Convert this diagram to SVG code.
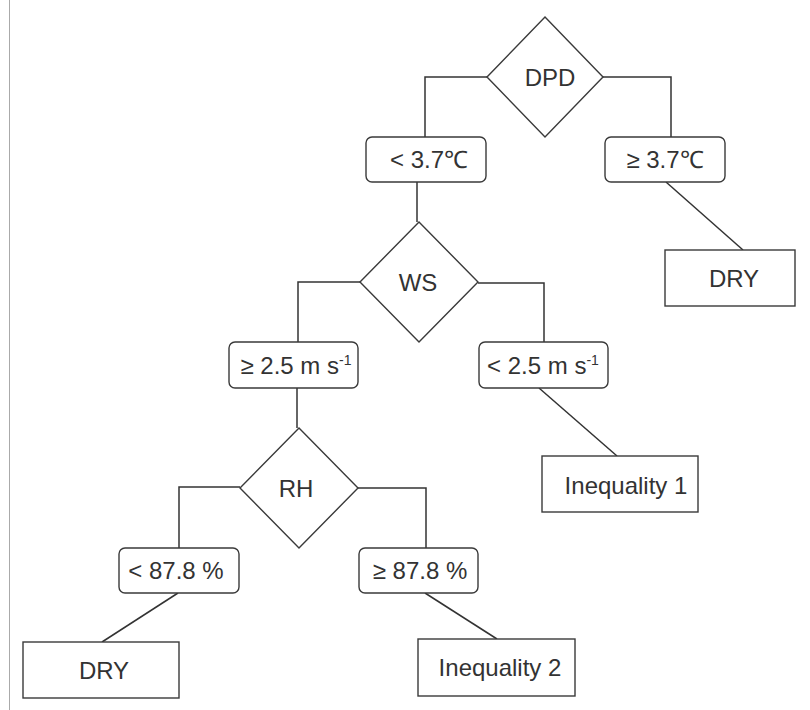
<svg xmlns="http://www.w3.org/2000/svg" width="810" height="710" viewBox="0 0 810 710">
<style>
.shape{fill:#fff;stroke:#3a3a3a;stroke-width:1.4}
.conn{fill:none;stroke:#333;stroke-width:1.5}
text{font-family:"Liberation Sans",Arial,sans-serif;font-size:24px;fill:#333;text-anchor:middle}
.sup{font-size:14px}
</style>
<rect width="810" height="710" fill="#fff"/>
<line x1="9.5" y1="0" x2="9.5" y2="710" stroke="#aaa" stroke-width="1"/>
<g id="connectors">
<path class="conn" d="M487,77 H425 V137"/>
<path class="conn" d="M603,77 H671 V137"/>
<path class="conn" d="M417,182 V222"/>
<path class="conn" d="M666,182 L743,250"/>
<path class="conn" d="M360,282 H298 V342"/>
<path class="conn" d="M478,283 H544 V342"/>
<path class="conn" d="M297,388 V428"/>
<path class="conn" d="M539,388 L617,456"/>
<path class="conn" d="M240,487 H179 V548"/>
<path class="conn" d="M358,488 H426 V548"/>
<path class="conn" d="M178,593 L102,642"/>
<path class="conn" d="M425,593 L497,639"/>
</g>
<g id="dpd">
<polygon class="shape" points="545,17 603,77 545,137 487,77"/>
<text x="550" y="86">DPD</text>
</g>
<g id="lt37">
<rect class="shape" x="366" y="137" width="120" height="45" rx="6"/>
<text x="429" y="168">&lt; 3.7℃</text>
</g>
<g id="ge37">
<rect class="shape" x="605" y="137" width="120" height="45" rx="6"/>
<text x="665" y="168">≥ 3.7℃</text>
</g>
<g id="dry1">
<rect class="shape" x="665" y="250" width="130" height="56"/>
<text x="734" y="287">DRY</text>
</g>
<g id="ws">
<polygon class="shape" points="419,222 478,282 419,342 360,282"/>
<text x="418" y="291">WS</text>
</g>
<g id="ge25">
<rect class="shape" x="229" y="342" width="129" height="46" rx="6"/>
<text x="296" y="374">≥ 2.5 m s<tspan class="sup" dy="-9">-1</tspan></text>
</g>
<g id="lt25">
<rect class="shape" x="479" y="342" width="129" height="46" rx="6"/>
<text x="543" y="374">&lt; 2.5 m s<tspan class="sup" dy="-9">-1</tspan></text>
</g>
<g id="ineq1">
<rect class="shape" x="542" y="456" width="156" height="56"/>
<text x="626" y="494">Inequality 1</text>
</g>
<g id="rh">
<polygon class="shape" points="299,428 358,488 299,548 240,488"/>
<text x="296" y="497">RH</text>
</g>
<g id="lt878">
<rect class="shape" x="119" y="548" width="120" height="45" rx="6"/>
<text x="176" y="579">&lt; 87.8 %</text>
</g>
<g id="ge878">
<rect class="shape" x="359" y="548" width="119" height="45" rx="6"/>
<text x="420" y="579">≥ 87.8 %</text>
</g>
<g id="dry2">
<rect class="shape" x="23" y="642" width="156" height="56"/>
<text x="104" y="679">DRY</text>
</g>
<g id="ineq2">
<rect class="shape" x="418" y="639" width="157" height="57"/>
<text x="500" y="676">Inequality 2</text>
</g>
</svg>
